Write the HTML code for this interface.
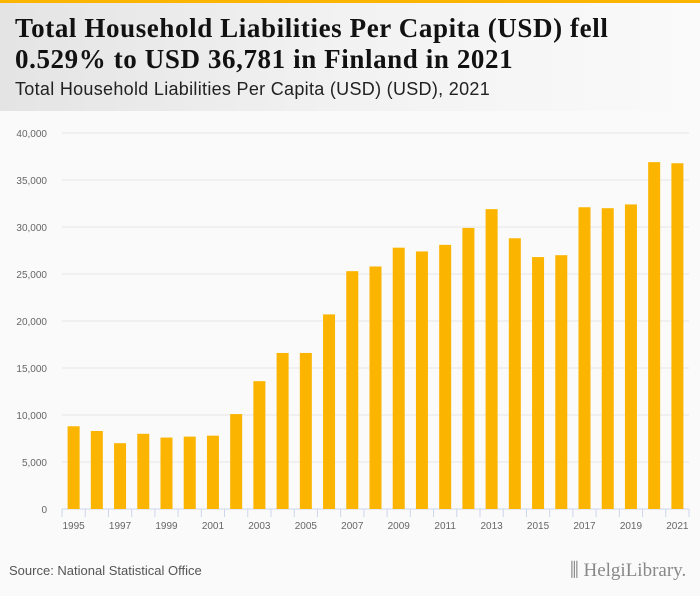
<!DOCTYPE html>
<html><head><meta charset="utf-8"><style>
body{margin:0;width:700px;height:596px;background:#fafafa;font-family:"Liberation Sans",sans-serif;overflow:hidden;position:relative}
#top{position:absolute;left:0;top:0;width:700px;height:3px;background:#fbb400}
#head{position:absolute;left:0;top:3px;width:700px;height:108px;background:linear-gradient(90deg,#e4e4e4,#f2f2f2 50%,#fafafa)}
h1{position:absolute;left:15px;top:13px;margin:0;font:bold 27px/31px "Liberation Serif",serif;color:#111;letter-spacing:0.6px}
#sub{position:absolute;left:15px;top:79px;font-size:18px;color:#222;letter-spacing:0.3px}
#src{position:absolute;left:9px;top:563px;font-size:13px;color:#555}
#logo{position:absolute;left:570px;top:560px;font:19px "Liberation Serif",serif;color:#888}
</style></head><body>
<div id="top"></div>
<div id="head"></div>
<h1>Total Household Liabilities Per Capita (USD) fell<br>0.529% to USD 36,781 in Finland in 2021</h1>
<div id="sub">Total Household Liabilities Per Capita (USD) (USD), 2021</div>
<svg id="chart" width="700" height="596" style="position:absolute;left:0;top:0"></svg>
<div id="src">Source: National Statistical Office</div>
<div id="logo">⫼ HelgiLibrary.</div>
<script>
const years=[1995,1996,1997,1998,1999,2000,2001,2002,2003,2004,2005,2006,2007,2008,2009,2010,2011,2012,2013,2014,2015,2016,2017,2018,2019,2020,2021];
const values=[8800,8300,7000,8000,7600,7700,7800,10100,13600,16600,16600,20700,25300,25800,27800,27400,28100,29900,31900,28800,26800,27000,32100,32000,32400,36900,36781];
const yTicks=[0,5000,10000,15000,20000,25000,30000,35000,40000];
const svg=document.getElementById('chart');const NS='http://www.w3.org/2000/svg';
const x0=62,x1=689,y0=509,yTop=133,yMax=40000;
const step=(x1-x0)/years.length;
const y=v=>y0-(v/yMax)*(y0-yTop);
const xc=i=>x0+step*(i+0.5);
function mk(t,a){const e=document.createElementNS(NS,t);for(const k in a)e.setAttribute(k,a[k]);svg.appendChild(e);return e;}
yTicks.forEach(t=>{
 const g=mk('line',{x1:x0,x2:x1,y1:y(t),y2:y(t),stroke:t?'#e6e6e6':'#ccd6eb','stroke-width':1});
 
 
 const l=mk('text',{x:47,y:y(t)+4,'text-anchor':'end','font-size':10,fill:'#666','font-family':'Liberation Sans, sans-serif'});
 l.textContent=t.toLocaleString('en-US');
 
 
});
for(let i=0;i<=years.length;i++){
 const tk=mk('line',{x1:x0+step*i,x2:x0+step*i,y1:y0,y2:y0+8,stroke:'#ccd6eb'});
 
 
}
years.forEach((yr,i)=>{
 const b=mk('rect',{x:xc(i)-6,y:y(values[i]),width:12,height:y0-y(values[i]),fill:'#fbb400'});
 
 
 if(i%2===0){
  const l=mk('text',{x:xc(i),y:y0+20,'text-anchor':'middle','font-size':10,fill:'#666','font-family':'Liberation Sans, sans-serif'});
  l.textContent=yr;
  
  
 }
});
</script>
</body></html>
